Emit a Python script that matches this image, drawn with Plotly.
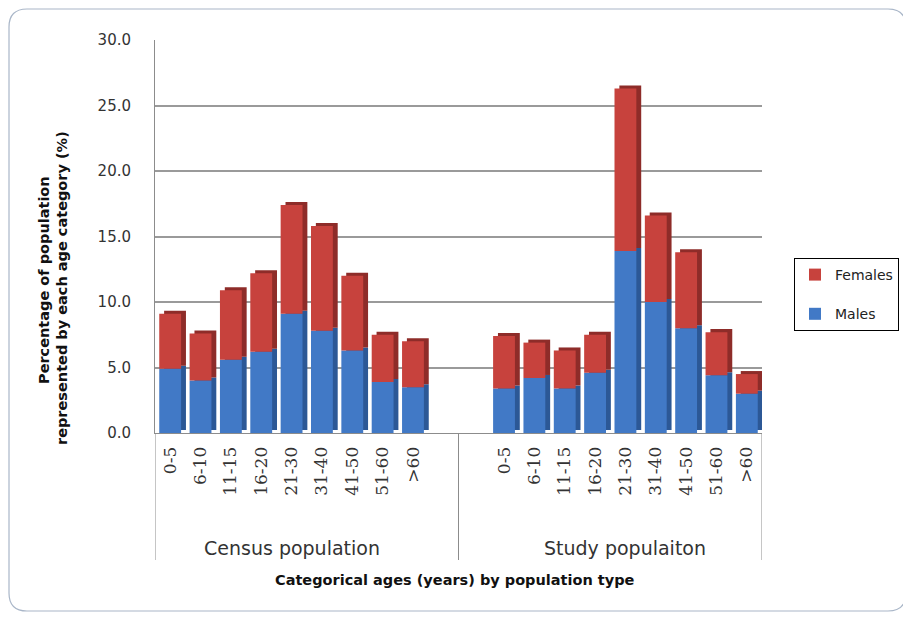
import plotly.graph_objects as go

# ---- data ----
age_groups = ["0-5", "6-10", "11-15", "16-20", "21-30", "31-40", "41-50", "51-60", ">60"]
population_types = ["Census population", "Study populaiton"]

census_males = [4.9, 4.0, 5.6, 6.2, 9.1, 7.8, 6.3, 3.9, 3.5]
census_females = [4.2, 3.6, 5.3, 6.0, 8.3, 8.0, 5.7, 3.6, 3.5]
study_males = [3.4, 4.2, 3.4, 4.6, 13.9, 10.0, 8.0, 4.4, 3.0]
study_females = [4.0, 2.7, 2.9, 2.9, 12.4, 6.6, 5.8, 3.3, 1.5]

y_ticks = [0, 5, 10, 15, 20, 25, 30]

# ---- positions: two groups of categories with a two-slot gap between ----
n = len(age_groups)
gap = 2
census_x = [i for i in range(n)]
study_x = [i + n + gap for i in range(n)]
x_all = census_x + study_x
labels_all = age_groups + age_groups
males = census_males + study_males
females = census_females + study_females

BLUE, BLUE_D = "#4179C6", "#2C5896"
RED, RED_D = "#C7423D", "#8E2C29"
SANS = "'DejaVu Sans', sans-serif"
SERIF = "'DejaVu Serif', serif"
TXT = "#333333"

# page offset (browser body margin of 8px): work in reference page coordinates
OFF = 8
W, H = 911 - OFF, 618 - OFF
pl, pr, pt, pb = 155, 762, 40, 433          # plot area in page coordinates
L, R, T, B = pl - OFF, W - (pr - OFF), pt - OFF, H - (pb - OFF)
pw, ph = pr - pl, pb - pt

def px(x):
    return (x - pl) / pw

def py(y):
    return (pb - y) / ph

BW = 0.72            # front face width (x units)
DX = 0.16            # depth offset in x units
DY = 0.23            # depth offset in y units

fig = go.Figure()
# depth ("3-D") faces drawn behind the front faces
fig.add_trace(go.Bar(x=x_all, y=males, base=[DY] * len(males), width=BW, offset=-BW / 2 + DX,
                     marker=dict(color=BLUE_D, line=dict(width=0)), showlegend=False, hoverinfo="skip"))
fig.add_trace(go.Bar(x=x_all, y=females, base=[m + DY for m in males], width=BW, offset=-BW / 2 + DX,
                     marker=dict(color=RED_D, line=dict(width=0)), showlegend=False, hoverinfo="skip"))
# front faces
fig.add_trace(go.Bar(x=x_all, y=males, base=[0] * len(males), width=BW, offset=-BW / 2, name="Males",
                     marker=dict(color=BLUE, line=dict(width=0)), legendrank=2, legendgroup="m"))
fig.add_trace(go.Bar(x=x_all, y=females, base=males, width=BW, offset=-BW / 2, name="Females",
                     marker=dict(color=RED, line=dict(width=0)), legendrank=1, legendgroup="f"))

# rounded outer border (paper coords)
x0, x1, y0, y1, r = 9, 906, 9, 611, 18
path = (f"M {px(x0 + r)},{py(y0)} L {px(x1 - r)},{py(y0)} "
        f"Q {px(x1)},{py(y0)} {px(x1)},{py(y0 + r)} "
        f"L {px(x1)},{py(y1 - r)} Q {px(x1)},{py(y1)} {px(x1 - r)},{py(y1)} "
        f"L {px(x0 + r)},{py(y1)} Q {px(x0)},{py(y1)} {px(x0)},{py(y1 - r)} "
        f"L {px(x0)},{py(y0 + r)} Q {px(x0)},{py(y0)} {px(x0 + r)},{py(y0)} Z")

shapes = [dict(type="path", xref="paper", yref="paper", path=path,
               line=dict(color="#A9B6C8", width=1.2), layer="below")]
# group dividers below the axis
div_x = [census_x[0] - 0.5, (census_x[-1] + study_x[0]) / 2, study_x[-1] + 0.5]
for dx in div_x:
    shapes.append(dict(type="line", xref="x", yref="paper", x0=dx, x1=dx, y0=0, y1=py(560),
                       line=dict(color="#8C8C8C", width=1)))

annotations = [
    dict(text="<b>Percentage of population</b>", xref="paper", yref="paper",
         x=px(44), y=py(280), textangle=-90, showarrow=False,
         font=dict(size=14.5, family=SANS, color="#111111"), xanchor="center", yanchor="middle"),
    dict(text="<b>represented by each age category (%)</b>", xref="paper", yref="paper",
         x=px(62), y=py(288), textangle=-90, showarrow=False,
         font=dict(size=14.5, family=SANS, color="#111111"), xanchor="center", yanchor="middle"),
    dict(text="<b>Categorical ages (years) by population type</b>",
         xref="paper", yref="paper", x=px(455), y=py(580),
         showarrow=False, font=dict(size=14.5, family=SANS, color="#111111"),
         xanchor="center", yanchor="middle"),
]
for name, xs in zip(population_types, [census_x, study_x]):
    annotations.append(dict(text=name, xref="x", yref="paper", x=(xs[0] + xs[-1]) / 2, y=py(548),
                            showarrow=False, font=dict(size=19, family=SANS, color=TXT),
                            xanchor="center", yanchor="middle"))

fig.update_layout(
    width=W, height=H,
    margin=dict(l=L, r=R, t=T, b=B, autoexpand=False),
    paper_bgcolor="white", plot_bgcolor="white",
    barmode="overlay",
    font=dict(family=SANS, color=TXT),
    showlegend=True,
    legend=dict(x=px(899), y=py(258), xanchor="right", yanchor="top",
                bordercolor="black", borderwidth=1, bgcolor="white",
                font=dict(size=14, family=SANS, color="#222222"),
                tracegroupgap=18, itemwidth=30),
    shapes=shapes,
    annotations=annotations,
)

fig.update_yaxes(range=[0, 30], tickvals=y_ticks, tickformat=".1f",
                 showgrid=True, gridcolor="#9A9A9A", gridwidth=1.5,
                 showline=True, linecolor="#8C8C8C", linewidth=1,
                 zeroline=False, ticks="", ticklabelstandoff=20,
                 tickfont=dict(size=15, family=SANS, color=TXT))
fig.update_xaxes(range=[census_x[0] - 0.5, study_x[-1] + 0.5],
                 tickvals=x_all, ticktext=labels_all, tickangle=-90,
                 showgrid=False, zeroline=False,
                 showline=True, linecolor="#8C8C8C", linewidth=1,
                 ticks="", ticklabelstandoff=6,
                 tickfont=dict(size=17, family=SERIF, color=TXT))

fig.write_html("out.html")
